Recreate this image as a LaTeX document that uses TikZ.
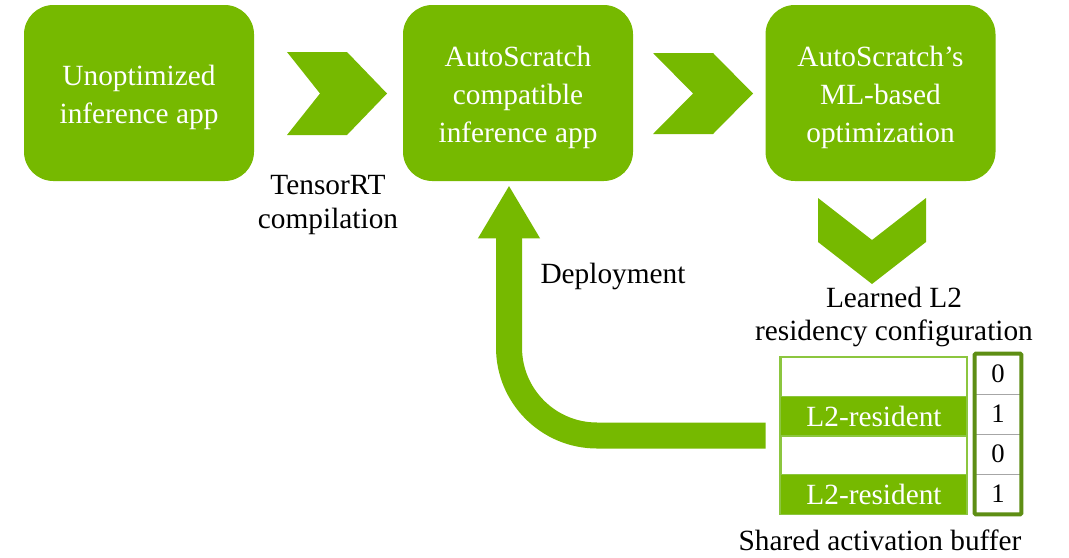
\documentclass[tikz,border=0pt]{standalone}
\usepackage{fontspec}
\setmainfont{Liberation Serif}
\usetikzlibrary{arrows.meta,calc}
\definecolor{nv}{HTML}{76B900}
\definecolor{nvlight}{HTML}{8CC63F}
\definecolor{nvdark}{HTML}{5E8E14}
\tikzset{
  bigbox/.style={fill=nv, rounded corners=22pt, minimum width=172.5pt, minimum height=132pt, inner sep=0pt},
  boxtext/.style={text=white, align=center, inner sep=0pt, font=\fontsize{22}{28.5}\selectfont},
  chev/.style={fill=nv, draw=none},
  lbl/.style={align=center, inner sep=0pt, font=\fontsize{22}{25}\selectfont},
  rowwhite/.style={draw=nvlight, line width=1.5pt, fill=white, minimum width=139.5pt, minimum height=29.4pt, inner sep=0pt},
  rowgreen/.style={fill=nv, text=white, minimum width=139.5pt, minimum height=29.4pt, inner sep=0pt, font=\fontsize{22}{25}\selectfont},
  bitcell/.style={draw=gray!70, line width=0.6pt, fill=white, minimum width=34.5pt, minimum height=30pt, inner sep=0pt, font=\fontsize{20}{22}\selectfont},
  deploy/.style={draw=nv, line width=19.5pt, rounded corners=66pt, -{Triangle[width=43.5pt,length=39.75pt]}},
}
\begin{document}
\begin{tikzpicture}[x=0.75pt,y=-0.75pt]
\useasboundingbox (0,0) rectangle (1069,557);
% main boxes
\node[bigbox] (box1) at (139,93) {};
\node[bigbox] (box2) at (518,93) {};
\node[bigbox] (box3) at (880.5,93) {};
\node[boxtext] (t1) at ($(box1.center)+(0,4)$) {Unoptimized\\inference app};
\node[boxtext] (t2) at ($(box2.center)+(0,4)$) {AutoScratch\\compatible\\inference app};
\node[boxtext] (t3) at ($(box3.center)+(0,4)$) {AutoScratch's\\ML-based\\optimization};
% chevrons
\fill[chev] (287,52) -- (347,52) -- (387,93.5) -- (347,135) -- (287,135) -- (320,93.5) -- cycle;
\fill[chev] (653,53) -- (713,53) -- (753,93.5) -- (713,134) -- (653,134) -- (693,93.5) -- cycle;
\fill[chev] (818,198) -- (872,240) -- (926,198) -- (926,242) -- (872,284) -- (818,242) -- cycle;
% labels
\node[lbl] (tlbl) at (328,205) {TensorRT\\compilation};
\node[lbl] (dlbl) at (613,276) {Deployment};
\node[lbl] (llbl) at (894,317) {Learned L2\\residency configuration};
\node[lbl] (slbl) at (880,540) {Shared activation buffer};
% buffer rows
\node[rowwhite] (r1) at (874,377) {};
\node[rowgreen] (r2) at (874,416.5) {L2-resident};
\node[rowwhite] (r3) at (874,455.5) {};
\node[rowgreen] (r4) at (874,494.5) {L2-resident};
\coordinate (buf) at (781,435.5);
\draw[nvlight, line width=1.2pt] (r1.north west) rectangle (r4.south east);
% bit cells
\node[bitcell] (b1) at (998,374) {0};
\node[bitcell] (b2) at (998,414) {1};
\node[bitcell] (b3) at (998,454) {0};
\node[bitcell] (b4) at (998,494) {1};
\draw[nvdark, line width=3pt, rounded corners=1pt] (b1.north west) rectangle (b4.south east);
% deployment arrow
\coordinate (dend) at ($(box2.south)+(-9,4)$);
\draw[deploy, shorten <=11.5pt] (buf) -| (dend);
\end{tikzpicture}
\end{document}
